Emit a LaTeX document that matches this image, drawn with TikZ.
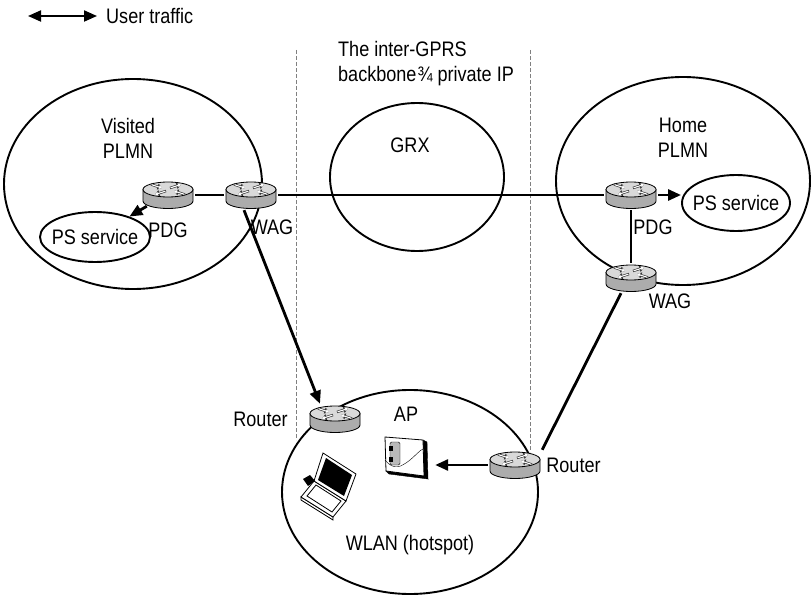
\documentclass[tikz,border=0pt]{standalone}
\usepackage{fontspec}
\setmainfont{Liberation Sans}[FakeStretch=0.86]
\usetikzlibrary{arrows.meta, positioning, shapes.geometric}
\tikzset{fat/.tip={Triangle[length=13pt, width=11pt]}}

\begin{document}
\begin{tikzpicture}[x=1pt, y=-1pt,
    font=\fontsize{21}{25}\selectfont,
    node distance=10pt,
    net/.style={ellipse, draw, line width=1.9pt, inner sep=0pt},
    svc/.style={ellipse, draw, line width=1.9pt, inner xsep=-14pt, inner ysep=-4pt},
    lbl/.style={inner sep=0pt},
    router/.style={rectangle, inner sep=0pt, minimum width=54pt, minimum height=30pt,
      path picture={
        \begin{scope}[shift={(path picture bounding box.center)}]
          \filldraw[fill=gray!65, line width=0.8pt] (-25,-5.5) -- (-25,6)
            arc[start angle=180, end angle=0, x radius=25, y radius=7.5] -- (25,-5.5) -- cycle;
          \filldraw[fill=gray!30, line width=0.8pt] (0,-5.5) ellipse[x radius=25, y radius=7.5];
          \foreach \a/\b in {{(2,-7)}/{(13,-10.5)}, {(-2,-4)}/{(-13,-0.5)},
                             {(-17,-10.5)}/{(-6,-7)}, {(17,-0.5)}/{(6,-4)}} {
            \draw[gray!40!black, line width=2.4pt, -{Triangle[length=4.5pt, width=6pt]}] \a -- \b;
            \draw[white, line width=1.1pt, shorten <=0.6pt, -{Triangle[length=3pt, width=3.6pt]}] \a -- \b;
          }
        \end{scope}}},
    device/.style={rectangle, inner sep=0pt, minimum width=44pt, minimum height=44pt},
    link/.style={line width=2.8pt},
    arr/.style={link, -fat},
    divider/.style={gray, line width=0.8pt, dash pattern=on 4pt off 2pt}
  ]
  \useasboundingbox (0,0) rectangle (811,596);

  % networks
  \node[net, minimum width=258pt, minimum height=210pt] (visited) at (133,184) {};
  \node[net, minimum width=174pt, minimum height=148pt] (grx)     at (417,177) {};
  \node[net, minimum width=254pt, minimum height=208pt] (home)    at (683,181) {};
  \node[net, minimum width=256pt, minimum height=204pt] (wlan)    at (410,492) {};
  \node[svc, minimum width=110pt, minimum height=50pt] (vps) at (95,237)  {PS service};
  \node[svc, minimum width=108pt, minimum height=56pt] (hps) at (736,203) {PS service};

  \node[lbl, align=center] (visited-t) at (128,138) {Visited\\PLMN};
  \node[lbl, align=center] (home-t)    at (683,138) {Home\\PLMN};
  \node[lbl] (grx-t)  at (410,145) {GRX};
  \node[lbl] (wlan-t) at (410,545) {WLAN (hotspot)};
  \node[lbl, align=left, anchor=north west] (backbone) at (338,41)
    {The inter-GPRS\\backbone\kern1pt¾ private IP};

  % legend
  \coordinate (leg-l) at (28,16);
  \coordinate (leg-r) at (97,16);
  \draw[line width=2pt, fat-fat] (leg-l) -- (leg-r);
  \node[lbl, anchor=west] (legend-t) at (106,16) {User traffic};

  % backbone borders
  \coordinate (bl-top) at (296,50);
  \coordinate (bl-bot) at (296,440);
  \coordinate (br-top) at (530,50);
  \coordinate (br-bot) at (530,452);
  \draw[divider] (bl-top) -- (bl-bot);
  \draw[divider] (br-top) -- (br-bot);

  % gateways and routers
  \node[router] (vpdg) at (168,195) {};
  \node[router] (vwag) at (251,195) {};
  \node[router] (hpdg) at (631,195) {};
  \node[router] (hwag) at (631,278) {};
  \node[router] (vrt)  at (335,419) {};
  \node[router] (rrt)  at (515,465) {};

  \node[lbl, below=12pt of vpdg] (vpdg-l) {PDG};
  \node[lbl] (vwag-l) at (272,227) {WAG};
  \node[lbl] (hpdg-l) at (653,227) {PDG};
  \node[lbl] (hwag-l) at (670,301) {WAG};
  \node[lbl, left=20pt of vrt]  (vrt-l) {Router};
  \node[lbl, right=4pt of rrt]  (rrt-l) {Router};

  % access point
  \node[device] (ap) at (406,457) {};
  \begin{scope}[shift={(ap)}]
    \filldraw (17,-17) -- (21,-15) -- (22,22) -- (18,19) -- cycle;
    \filldraw (-20,14) -- (18,19) -- (22,22) -- (-17,17) -- cycle;
    \filldraw[fill=white, line width=0.8pt] (-21,-20) -- (17,-17) -- (18,19) -- (-20,14) -- cycle;
    \filldraw[fill=gray!55, rounded corners=1.5pt] (-16,-15) rectangle (-6,8);
    \fill (-17,-11) rectangle (-13,-6);
    \fill (-17,0) rectangle (-13,5);
    \draw (-21,3) .. controls (-12,14) and (-5,10) .. (4,3)
                  .. controls (10,-2) and (14,-7) .. (17,-8);
  \end{scope}
  \node[lbl, above=13pt of ap] (ap-l) {AP};

  % laptop
  \begin{scope}[shift={(328,485)}, line width=0.8pt]
    \filldraw[fill=white] (-27,12) -- (5,32) -- (5,35) -- (-27,15) -- cycle;
    \filldraw[fill=white] (-14,-4) -- (18,16) -- (5,32) -- (-27,12) -- cycle;
    \draw (-12,0) -- (13,16) -- (4,27) -- (-21,11) -- cycle;
    \filldraw[fill=white] (-5,-32) -- (28,-11) -- (18,16) -- (-14,-4) -- cycle;
    \fill (-2,-27) -- (24,-10) -- (16,11) -- (-10,-5) -- cycle;
    \fill (-25,-6) -- (-18,-10) -- (-13,-4) -- (-20,1) -- cycle;
  \end{scope}

  % user traffic
  \draw[link] (vpdg) -- (vwag);
  \draw[link] (vwag) -- (hpdg);
  \draw[arr]  ([xshift=6pt, yshift=4pt]vpdg.south west) -- (vps);
  \draw[arr]  (hpdg) -- (hpdg -| hps.west);
  \draw[link] (hpdg) -- (hwag);
  \draw[arr]  ([xshift=-7pt]vwag.south) -- ([xshift=-15pt]vrt.north);
  \draw[link] ([xshift=-10pt]hwag.south) -- (rrt.north east);
  \draw[arr, shorten >=7pt] (rrt.west) -- (rrt.west -| ap.east);
\end{tikzpicture}
\end{document}
